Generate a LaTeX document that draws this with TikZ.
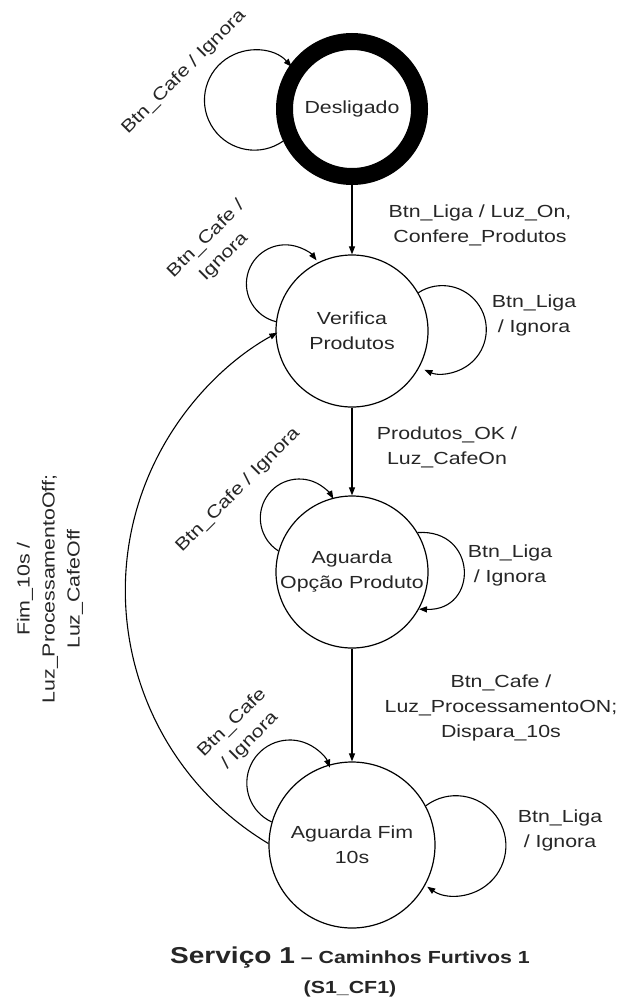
\documentclass[tikz,border=0pt]{standalone}
\usepackage{fontspec}
\setmainfont{Liberation Sans}[FakeStretch=1.22]
\usetikzlibrary{arrows.meta}
\begin{document}
\begin{tikzpicture}[x=1pt,y=1pt,
  every node/.style={font=\fontsize{17.5}{25}\selectfont, text=black!85},
  st/.style={circle, draw, line width=1.2pt, minimum size=152pt, inner sep=0pt, align=center},
  tr/.style={draw, line width=1.1pt, -{Triangle[length=8pt,width=6pt]}},
  lbl/.style={align=center, inner sep=0pt}]
\useasboundingbox (0,0) rectangle (618,-998);

% states
\node[circle, draw, line width=17pt, minimum size=135pt, inner sep=0pt] (des) at (352,-109) {Desligado};
\node[st] (ver) at (352,-331) {Verifica\\Produtos};
\node[st] (opc) at (352,-572) {Aguarda\\Opção Produto};
\node[st, minimum size=166pt] (fim) at (352,-845) {Aguarda Fim\\10s};

% transitions
\draw[tr] (des.south) -- (ver.north);
\draw[tr] (ver.south) -- (opc.north);
\draw[tr] (opc.south) -- (fim.north);
\draw[tr] (fim.179) arc[start angle=239, delta angle=-120, radius=295];

% self loops
\draw[tr] (des.205) arc[start angle=-55, delta angle=-263, radius=50];
\draw[tr] (ver.173) arc[start angle=256, delta angle=-219, radius=39];
\draw[tr] (ver.30) arc[start angle=123, delta angle=-237, radius=44];
\draw[tr] (opc.164) arc[start angle=237.5, delta angle=-208, radius=39];
\draw[tr] (opc.31) .. controls +(60,4) and +(60,-2) .. (opc.-29);
\draw[tr] (fim.164) arc[start angle=245, delta angle=-224, radius=43];
\draw[tr] (fim.28) arc[start angle=127, delta angle=-252, radius=50];

% labels
\node[lbl, rotate=45] (l1) at (184,-72) {Btn\_Cafe / Ignora};
\node[lbl] (l2) at (480,-225) {Btn\_Liga / Luz\_On,\\Confere\_Produtos};
\node[lbl, rotate=45] (l3) at (215,-248) {Btn\_Cafe /\\Ignora};
\node[lbl] (l4) at (534,-315) {Btn\_Liga\\/ Ignora};
\node[lbl] (l5) at (447,-447) {Produtos\_OK /\\Luz\_CafeOn};
\node[lbl, rotate=45] (l6) at (238,-490) {Btn\_Cafe / Ignora};
\node[lbl] (l7) at (510,-565) {Btn\_Liga\\/ Ignora};
\node[lbl] (l8) at (501,-708) {Btn\_Cafe /\\Luz\_ProcessamentoON;\\Dispara\_10s};
\node[lbl, rotate=45] (l9) at (241,-732) {Btn\_Cafe\\/ Ignora};
\node[lbl] (l10) at (560,-830) {Btn\_Liga\\/ Ignora};
\node[lbl, rotate=90] (l11) at (50,-589) {Fim\_10s /\\Luz\_ProcessamentoOff;\\Luz\_CafeOff};

% title
\node[lbl, font=\fontsize{17.5}{30}\selectfont\bfseries] (title) at (350,-972)
  {{\fontsize{23}{30}\selectfont Serviço 1} – Caminhos Furtivos 1\\(S1\_CF1)};
\end{tikzpicture}
\end{document}
